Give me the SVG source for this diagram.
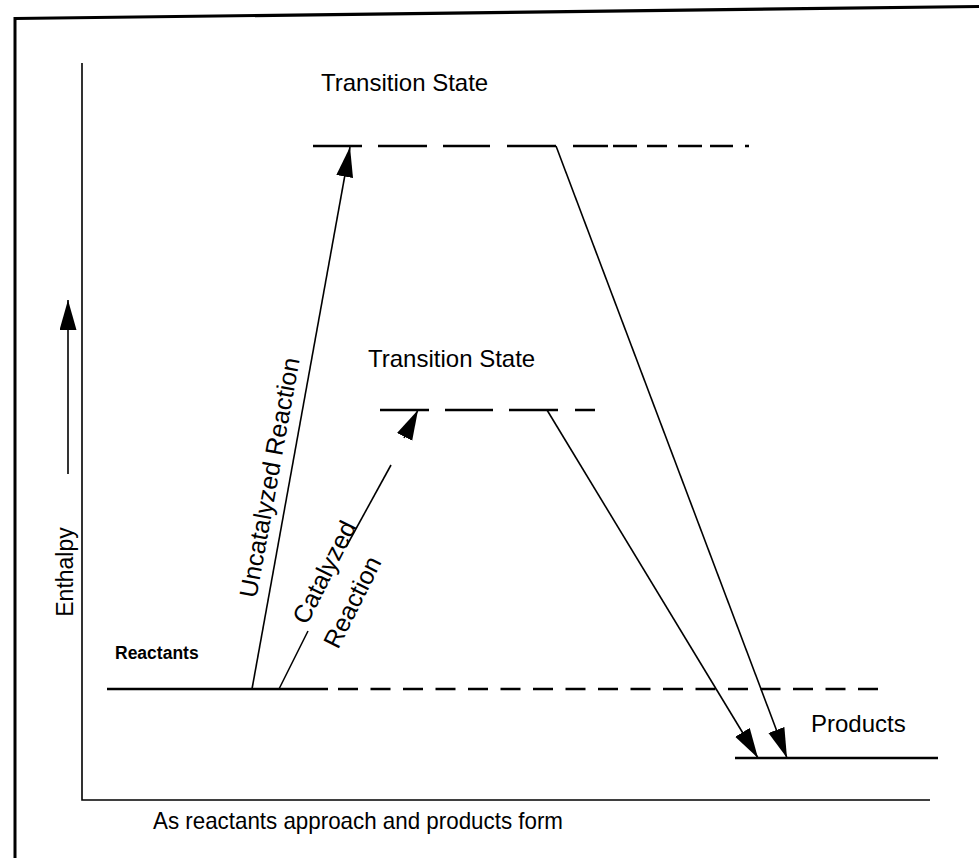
<svg xmlns="http://www.w3.org/2000/svg" width="979" height="858" viewBox="0 0 979 858">
  <defs>
    <style>
      .ln { stroke: #000; stroke-width: 1.6; fill: none; }
      .lvl { stroke: #000; stroke-width: 2.4; fill: none; }
      .txt { font-family: "Liberation Sans", Arial, Helvetica, sans-serif; fill: #000; }
      .lbl { font-size: 24px; }
      .rot { font-size: 25px; }
    </style>
    <marker id="ah" markerUnits="userSpaceOnUse" markerWidth="32" markerHeight="18" refX="30" refY="8.5" orient="auto">
      <path d="M0,0 L30,8.5 L0,17 z" fill="#000"/>
    </marker>
  </defs>
  <rect x="0" y="0" width="979" height="858" fill="#fff"/>

  <g id="frame">
    <path d="M15,18.5 L979,6.5" stroke="#000" stroke-width="3.2" fill="none"/>
    <path d="M15,17 L15,858" stroke="#000" stroke-width="3" fill="none"/>
  </g>

  <g id="axes">
    <path class="ln" d="M82,63 L82,800 L930,800"/>
  </g>

  <g id="enthalpy-axis-label">
    <path class="ln" d="M68,474 L68,300" marker-end="url(#ah)"/>
    <text class="txt" font-size="23" transform="translate(73,572) rotate(-90)" text-anchor="middle">Enthalpy</text>
  </g>

  <g id="x-axis-label">
    <text class="txt" font-size="24" x="153" y="829" textLength="410" lengthAdjust="spacingAndGlyphs">As reactants approach and products form</text>
  </g>

  <g id="transition-state-uncatalyzed">
    <text class="txt lbl" x="321" y="91">Transition State</text>
    <path class="lvl" d="M313,146H362 M378,146H427 M443,146H490 M507,146H556 M573,146H608 M613,146H637 M647,146H667 M678,146H702 M710,146H733 M745,146H749"/>
  </g>

  <g id="transition-state-catalyzed">
    <text class="txt lbl" x="368" y="367">Transition State</text>
    <path class="lvl" d="M380,410H429 M445,410H493 M509,410H558 M575,410H595"/>
  </g>

  <g id="reactants">
    <text class="txt" font-size="17.5" font-weight="bold" x="115" y="659">Reactants</text>
    <path class="lvl" d="M107,689H328"/>
    <path class="lvl" d="M338,689H878" stroke-dasharray="20 12.5"/>
  </g>

  <g id="products">
    <text class="txt lbl" x="811" y="732">Products</text>
    <path class="lvl" d="M735,758H938"/>
  </g>

  <g id="connectors">
    <path class="ln" d="M252,689 L350,147" marker-end="url(#ah)"/>
    <path class="ln" d="M279,689 L308,631"/>
    <path class="ln" d="M346,547 L391,465"/>
    <path class="ln" d="M404,438 L418,410" marker-end="url(#ah)"/>
    <path class="ln" d="M556,146 L787,758" marker-end="url(#ah)"/>
    <path class="ln" d="M547,410 L758,758" marker-end="url(#ah)"/>
  </g>

  <g id="reaction-labels">
    <text class="txt rot" transform="translate(278,479) rotate(-79.75)" text-anchor="middle">Uncatalyzed Reaction</text>
    <text class="txt rot" transform="translate(332,576) rotate(-63.4)" text-anchor="middle">Catalyzed</text>
    <text class="txt rot" transform="translate(360,606) rotate(-63.4)" text-anchor="middle">Reaction</text>
  </g>
</svg>
